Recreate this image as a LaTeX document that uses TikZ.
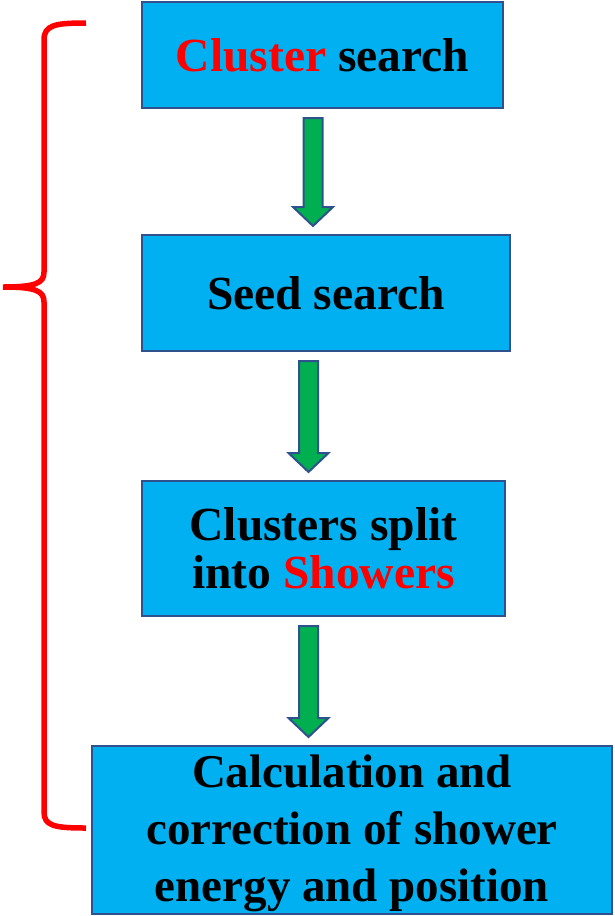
\documentclass[tikz,border=0pt]{standalone}
\usepackage{fontspec}
\setmainfont{Liberation Serif}
\usepackage{xcolor}
\usepackage{tikz}
\usetikzlibrary{calc}

\definecolor{boxblue}{HTML}{00B0F0}
\definecolor{edgeblue}{HTML}{2F528F}
\definecolor{arrowgreen}{HTML}{00B050}
\definecolor{bracered}{HTML}{FF0000}

% block arrow between two boxes: from, to, xshift
\newcommand{\blockarrow}[3]{%
  \path ([xshift=#3pt]#1.south) ++(0,9) coordinate (top);
  \path (top |- #2.north) ++(0,-8) coordinate (tip);
  \draw[arrowbox] ($(top)+(-9.5,0)$) -- ($(tip)+(-9.5,-19)$) -- ($(tip)+(-20,-19)$)
    -- (tip) -- ($(tip)+(20,-19)$) -- ($(tip)+(9.5,-19)$) -- ($(top)+(9.5,0)$) -- cycle;}

\begin{document}
\begin{tikzpicture}[
    x=1pt, y=-1pt,
    stepbox/.style={draw=edgeblue, line width=2pt, fill=boxblue, rectangle, inner sep=0pt,
        align=center, font=\bfseries\fontsize{47.5}{48}\selectfont},
    arrowbox/.style={draw=edgeblue, line width=2pt, fill=arrowgreen, line join=miter}
    ]
    \useasboundingbox (0,0) rectangle (615,916);

    % Boxes
    \node[stepbox, minimum width=361pt, minimum height=106pt] (clusterSearch) at (322.5,55)
        {\textcolor{bracered}{Cluster} search};
    \node[stepbox, minimum width=368pt, minimum height=116pt] (seedSearch) at (326,293)
        {Seed search};
    \node[stepbox, minimum width=363pt, minimum height=135pt] (splitShowers) at (323.5,548.5)
        {Clusters split\\into \textcolor{bracered}{Showers}};
    \node[stepbox, minimum width=520pt, minimum height=168pt,
        font=\bfseries\fontsize{47}{57}\selectfont] (showerEnergy) at (352,830)
        {\rule{0pt}{40pt}Calculation and\\correction of shower\\energy and position};

    % Arrows
    \blockarrow{clusterSearch}{seedSearch}{-9.5}
    \blockarrow{seedSearch}{splitShowers}{-17.5}
    \blockarrow{splitShowers}{showerEnergy}{-15}

    % Brace
    \draw[bracered, line width=5.5pt, line cap=butt]
        (86,23) .. controls (55,23) and (44,25) .. (44,40) -- (44,272)
        .. controls (44,283) and (36,287) .. (3,287)
        (3,287) .. controls (36,287) and (44,291) .. (44,302) -- (44,812)
        .. controls (44,826) and (55,828) .. (86,828);

\end{tikzpicture}
\end{document}
